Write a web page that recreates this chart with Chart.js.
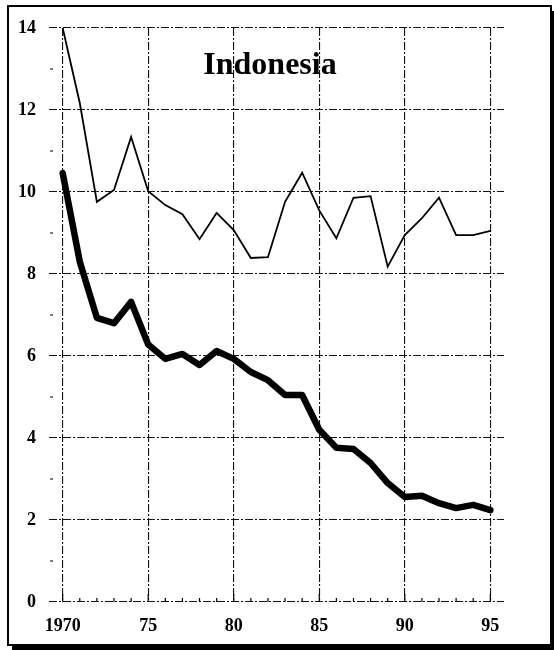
<!DOCTYPE html>
<html>
<head>
<meta charset="utf-8">
<script src="https://cdn.jsdelivr.net/npm/chart.js@4.4.1/dist/chart.umd.min.js"></script>
<style>
  html, body { margin: 0; padding: 0; background: #fff; }
  #wrap { position: relative; width: 554px; height: 650px; overflow: hidden; }
  #frame { position: absolute; left: 7px; top: 5px; width: 541px; height: 637px;
           border: 2px solid #000; box-shadow: 5px 6px 0 #000; background: #fff; }
  canvas { position: absolute; left: 0; top: 0; }
</style>
</head>
<body>
<div id="wrap">
  <div id="frame"></div>
  <canvas id="c" width="554" height="650"></canvas>
</div>
<script>
const years = [1970,1971,1972,1973,1974,1975,1976,1977,1978,1979,1980,1981,1982,1983,1984,1985,1986,1987,1988,1989,1990,1991,1992,1993,1994,1995];
const thinSeries = [14.0,12.17,9.76,10.05,11.34,10.02,9.68,9.46,8.85,9.49,9.07,8.39,8.41,9.76,10.47,9.55,8.87,9.86,9.9,8.18,8.95,9.36,9.86,8.95,8.95,9.05];
const thickSeries = [10.46,8.3,6.93,6.8,7.32,6.28,5.93,6.05,5.78,6.12,5.93,5.61,5.41,5.05,5.05,4.2,3.76,3.73,3.39,2.9,2.56,2.59,2.41,2.29,2.37,2.24];
const xTicks = [1970,1975,1980,1985,1990,1995];
const xTickLabels = ['1970','75','80','85','90','95'];
const yTicks = [0,2,4,6,8,10,12,14];
const yMinorTicks = [1,3,5,7,9,11,13];
const titleText = 'Indonesia';

const labelFont = { family: '"Liberation Serif", "Times New Roman", serif', size: 18, weight: 'bold' };

const minorTicks = {
  id: 'minorTicks',
  afterDatasetsDraw(chart) {
    const {ctx, chartArea, scales} = chart;
    ctx.save();
    ctx.strokeStyle = '#000';
    ctx.lineWidth = 1.2;
    ctx.beginPath();
    yMinorTicks.forEach(v => {
      const y = scales.y.getPixelForValue(v);
      ctx.moveTo(chartArea.left + 1, y); ctx.lineTo(chartArea.left + 4, y);
    });
    years.forEach(v => {
      if (xTicks.includes(v)) return;
      const x = scales.x.getPixelForValue(v);
      ctx.moveTo(x, chartArea.bottom); ctx.lineTo(x, chartArea.bottom - 4);
    });
    xTicks.forEach(v => {
      const x = scales.x.getPixelForValue(v);
      ctx.moveTo(x, chartArea.bottom); ctx.lineTo(x, chartArea.bottom - 8);
    });
    ctx.stroke();
    ctx.fillStyle = '#000';
    ctx.font = 'bold 32px "Liberation Serif", "Times New Roman", serif';
    ctx.textAlign = 'center';
    ctx.textBaseline = 'alphabetic';
    ctx.fillText(titleText, 270, 74);
    ctx.restore();
  }
};

new Chart(document.getElementById('c'), {
  type: 'line',
  data: {
    datasets: [
      { data: years.map((x, i) => ({x, y: thinSeries[i]})), borderColor: '#000', borderWidth: 1.8, pointRadius: 0, tension: 0, fill: false },
      { data: years.map((x, i) => ({x, y: thickSeries[i]})), borderColor: '#000', borderWidth: 6.5, pointRadius: 0, tension: 0, fill: false, borderJoinStyle: 'round', borderCapStyle: 'round' }
    ]
  },
  options: {
    responsive: false,
    animation: false,
    layout: { padding: { left: 0, top: 28, right: 50, bottom: 0 } },
    plugins: { legend: { display: false }, tooltip: { enabled: false }, title: { display: false } },
    scales: {
      x: {
        type: 'linear', min: 1969.2, max: 1995.8,
        afterBuildTicks: s => { s.ticks = xTicks.map(v => ({value: v})); },
        afterFit: s => { s.height = 48; },
        ticks: {
          color: '#000', font: labelFont, padding: 14, maxRotation: 0, autoSkip: false,
          callback: v => { const i = xTicks.indexOf(v); return i >= 0 ? xTickLabels[i] : ''; }
        },
        grid: { color: '#111', lineWidth: 1.1, drawTicks: false },
        border: { display: false, dash: [8, 2, 2, 2] }
      },
      y: {
        type: 'linear', min: 0, max: 14,
        afterBuildTicks: s => { s.ticks = yTicks.map(v => ({value: v})); },
        afterFit: s => { s.width = 49; },
        ticks: { color: '#000', font: labelFont, padding: 13, autoSkip: false },
        grid: { color: '#111', lineWidth: 1.1, drawTicks: false },
        border: { display: false, dash: [8, 2, 2, 2] }
      }
    }
  },
  plugins: [minorTicks]
});
</script>
</body>
</html>
